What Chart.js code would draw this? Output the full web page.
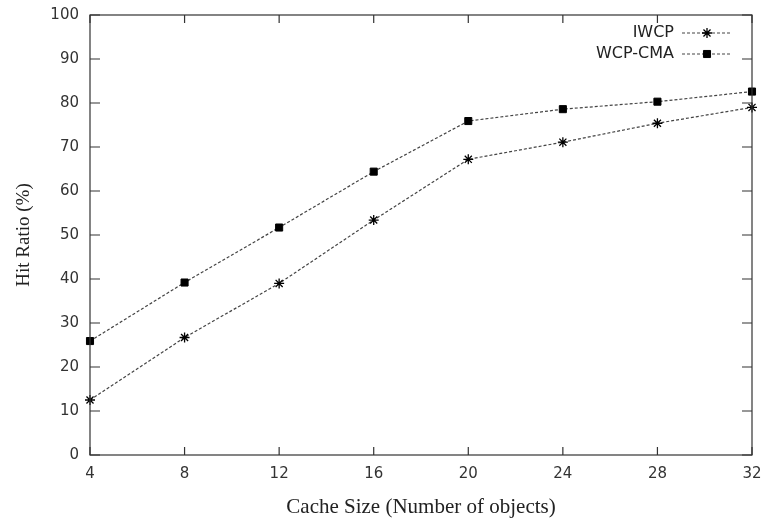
<!DOCTYPE html>
<html>
<head>
<meta charset="utf-8">
<script src="https://cdn.jsdelivr.net/npm/chart.js@4/dist/chart.umd.min.js"></script>
<style>
  html, body { margin: 0; padding: 0; background: #fff; }
  #wrap { width: 764px; height: 524px; }
</style>
</head>
<body>
<div id="wrap"><canvas id="myChart" width="764" height="524"></canvas></div>
<script>
// valores
const cacheSizes = ['4', '8', '12', '16', '20', '24', '28', '32'];
const iwcp = [12.5, 26.7, 39.0, 53.4, 67.2, 71.1, 75.4, 79.0];
const wcpCma = [25.9, 39.2, 51.7, 64.4, 75.9, 78.6, 80.3, 82.6];
const yTicks = [0, 10, 20, 30, 40, 50, 60, 70, 80, 90, 100];

const tickFont = { family: 'DejaVu Sans', size: 15 };

// moldura e ticks para dentro (como no gnuplot)
const frame = {
    id: 'frame',
    afterDatasetsDraw(chart) {
        const { ctx, chartArea: a, scales } = chart;
        ctx.save();
        ctx.strokeStyle = '#333';
        ctx.lineWidth = 1.2;
        ctx.strokeRect(a.left, a.top, a.right - a.left, a.bottom - a.top);
        ctx.beginPath();
        scales.x.ticks.forEach((t, i) => {
            const x = scales.x.getPixelForTick(i);
            ctx.moveTo(x, a.bottom); ctx.lineTo(x, a.bottom - 8);
            ctx.moveTo(x, a.top); ctx.lineTo(x, a.top + 8);
        });
        scales.y.ticks.forEach((t, i) => {
            const y = scales.y.getPixelForTick(i);
            ctx.moveTo(a.left, y); ctx.lineTo(a.left + 10, y);
            ctx.moveTo(a.right, y); ctx.lineTo(a.right - 10, y);
        });
        ctx.stroke();
        ctx.restore();
    }
};

// legenda à moda gnuplot: texto à direita, amostra da linha depois
const legendBox = {
    id: 'legendBox',
    afterDraw(chart) {
        const { ctx } = chart;
        ctx.save();
        ctx.font = '16px "DejaVu Sans"';
        ctx.textAlign = 'right';
        ctx.textBaseline = 'middle';
        chart.data.datasets.forEach((ds, i) => {
            const y = 33 + i * 21;
            ctx.fillStyle = '#222';
            ctx.fillText(ds.label, 674, y);
            ctx.strokeStyle = ds.borderColor;
            ctx.lineWidth = ds.borderWidth;
            ctx.setLineDash(ds.borderDash);
            ctx.beginPath();
            ctx.moveTo(682, y); ctx.lineTo(731, y);
            ctx.stroke();
            ctx.setLineDash([]);
            ctx.fillStyle = '#000';
            ctx.strokeStyle = '#000';
            ctx.lineWidth = ds.pointBorderWidth;
            Chart.helpers.drawPoint(ctx, {
                pointStyle: ds.pointStyle,
                radius: ds.pointRadius,
                borderWidth: ds.pointBorderWidth,
                rotation: 0
            }, 707, y);
        });
        ctx.restore();
    }
};

const ctx = document.getElementById('myChart').getContext('2d');

const myChart = new Chart(ctx, {
    type: 'line',
    data: {
        labels: cacheSizes,
        datasets: [{
            label: 'IWCP',
            data: iwcp,
            borderColor: '#444',
            borderWidth: 1.2,
            borderDash: [3, 2],
            pointStyle: 'star',
            pointRadius: 5,
            pointBorderWidth: 1.3,
            pointBorderColor: '#000',
            pointBackgroundColor: '#000',
            tension: 0
        }, {
            label: 'WCP-CMA',
            data: wcpCma,
            borderColor: '#444',
            borderWidth: 1.2,
            borderDash: [3, 2],
            pointStyle: 'rect',
            pointRadius: 5,
            pointBorderWidth: 1,
            pointBorderColor: '#000',
            pointBackgroundColor: '#000',
            tension: 0
        }]
    },
    options: {
        responsive: false,
        animation: false,
        layout: { padding: { left: 0, right: 12, top: 15, bottom: 0 } },
        plugins: {
            legend: { display: false },
            tooltip: { enabled: false }
        },
        scales: {
            x: {
                offset: false,
                grid: { display: false, drawTicks: false },
                border: { display: false },
                ticks: { font: tickFont, color: '#333', padding: 10, maxRotation: 0 },
                title: {
                    display: true,
                    text: 'Cache Size (Number of objects)',
                    font: { family: 'Liberation Serif', size: 21 },
                    color: '#222',
                    padding: { top: 13 }
                },
                afterFit(scale) {
                    scale.height = 69;
                    scale.paddingLeft = 0;
                    scale.paddingRight = 0;
                }
            },
            y: {
                min: 0,
                max: 100,
                grid: { display: false, drawTicks: false },
                border: { display: false },
                afterBuildTicks(scale) { scale.ticks = yTicks.map(v => ({ value: v })); },
                ticks: { font: tickFont, color: '#333', padding: 11 },
                title: {
                    display: true,
                    text: 'Hit Ratio (%)',
                    font: { family: 'Liberation Serif', size: 19 },
                    color: '#222',
                    padding: { top: 13, bottom: 4 }
                },
                afterFit(scale) {
                    scale.width = 90;
                    scale.paddingTop = 0;
                    scale.paddingBottom = 0;
                }
            }
        }
    },
    plugins: [frame, legendBox]
});
</script>
</body>
</html>
